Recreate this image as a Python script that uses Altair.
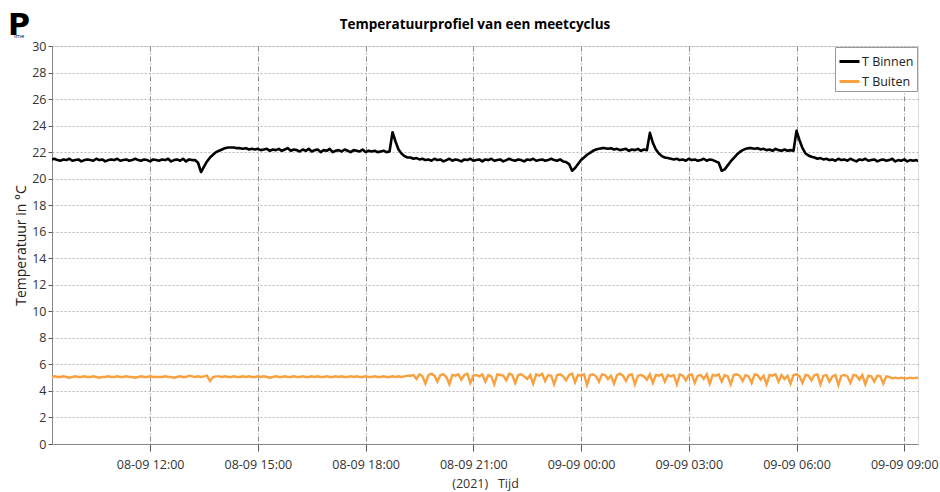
import altair as alt
import pandas as pd

# T Binnen, every 5 minutes from 08-09 09:15 (one row = one hour)
indoor = [
    21.45, 21.5, 21.4, 21.35, 21.45, 21.4, 21.5, 21.35, 21.4, 21.45, 21.3, 21.4,
    21.45, 21.4, 21.35, 21.5, 21.4, 21.45, 21.3, 21.4, 21.45, 21.4, 21.5, 21.35,
    21.4, 21.45, 21.35, 21.4, 21.5, 21.4, 21.35, 21.45, 21.4, 21.3, 21.45, 21.4,
    21.35, 21.45, 21.4, 21.5, 21.3, 21.4, 21.45, 21.35, 21.5, 21.3, 21.45, 21.4,
    21.4, 21.2, 20.5, 20.9, 21.3, 21.6, 21.8, 22.0, 22.1, 22.2, 22.3, 22.35,
    22.35, 22.35, 22.3, 22.3, 22.25, 22.3, 22.2, 22.25, 22.2, 22.25, 22.15, 22.2,
    22.25, 22.1, 22.2, 22.15, 22.25, 22.1, 22.2, 22.3, 22.1, 22.2, 22.15, 22.05,
    22.2, 22.1, 22.25, 22.05, 22.15, 22.2, 22.0, 22.15, 22.1, 22.25, 22.0, 22.1,
    22.15, 22.05, 22.2, 22.1, 22.0, 22.15, 22.1, 22.05, 22.2, 22.0, 22.1, 22.05,
    22.1, 22.0, 22.05, 22.1, 22.0, 22.05, 23.5, 22.8, 22.2, 21.9, 21.7, 21.6,
    21.6, 21.5, 21.55, 21.45, 21.5, 21.4, 21.45, 21.35, 21.5, 21.4, 21.45, 21.3,
    21.4, 21.5, 21.35, 21.45, 21.4, 21.3, 21.45, 21.4, 21.5, 21.35, 21.4, 21.45,
    21.3, 21.45, 21.4, 21.5, 21.35, 21.4, 21.45, 21.3, 21.4, 21.5, 21.4, 21.35,
    21.45, 21.4, 21.3, 21.45, 21.4, 21.5, 21.35, 21.4, 21.45, 21.35, 21.4, 21.5,
    21.4, 21.35, 21.45, 21.3, 21.25, 21.1, 20.6, 20.8, 21.1, 21.4, 21.6, 21.8,
    21.95, 22.1, 22.2, 22.25, 22.3, 22.3, 22.25, 22.3, 22.2, 22.25, 22.15, 22.2,
    22.25, 22.1, 22.2, 22.15, 22.25, 22.1, 22.2, 22.15, 23.45, 22.7, 22.2, 21.9,
    21.7, 21.6, 21.55, 21.5, 21.45, 21.5, 21.4, 21.45, 21.35, 21.5, 21.4, 21.45,
    21.35, 21.4, 21.5, 21.35, 21.45, 21.4, 21.3, 21.2, 20.6, 20.7, 21.0, 21.3,
    21.55, 21.8, 22.0, 22.15, 22.25, 22.3, 22.3, 22.25, 22.3, 22.2, 22.25, 22.15,
    22.2, 22.1, 22.25, 22.15, 22.1, 22.2, 22.1, 22.15, 22.1, 23.6, 22.9, 22.3,
    21.9, 21.75, 21.65, 21.6, 21.5, 21.55, 21.45, 21.5, 21.4, 21.45, 21.35, 21.5,
    21.4, 21.45, 21.35, 21.5, 21.4, 21.3, 21.45, 21.4, 21.5, 21.35, 21.4, 21.45,
    21.3, 21.4, 21.45, 21.35, 21.4, 21.5, 21.3, 21.4, 21.35, 21.45, 21.3, 21.4,
    21.35, 21.4, 21.3,
]

# T Buiten, every 5 minutes from 08-09 09:15 (one row = one hour)
outdoor = [
    5.05, 5.1, 5.05, 5.05, 5.1, 5.05, 5.0, 5.05, 5.1, 5.05, 5.05, 5.1,
    5.05, 5.05, 5.1, 5.05, 5.0, 5.05, 5.05, 5.1, 5.05, 5.05, 5.1, 5.05,
    5.05, 5.1, 5.05, 5.05, 5.0, 5.05, 5.1, 5.05, 5.05, 5.1, 5.05, 5.05,
    5.05, 5.05, 5.1, 5.05, 5.05, 5.0, 5.05, 5.1, 5.05, 5.05, 5.15, 5.1,
    5.05, 5.1, 5.05, 5.1, 5.15, 4.75, 5.05, 5.1, 5.1, 5.05, 5.1, 5.05,
    5.05, 5.1, 5.05, 5.05, 5.1, 5.05, 5.1, 5.05, 5.05, 5.1, 5.05, 5.1,
    5.05, 5.0, 5.05, 5.1, 5.05, 5.05, 5.1, 5.05, 5.05, 5.1, 5.05, 5.05,
    5.1, 5.05, 5.05, 5.1, 5.05, 5.1, 5.05, 5.05, 5.1, 5.05, 5.05, 5.1,
    5.05, 5.1, 5.05, 5.05, 5.1, 5.05, 5.1, 5.05, 5.05, 5.1, 5.05, 5.05,
    5.1, 5.05, 5.05, 5.1, 5.05, 5.05, 5.1, 5.05, 5.1, 5.05, 5.1, 5.15,
    5.15, 5.2, 4.9, 5.25, 5.1, 4.55, 5.2, 5.3, 5.15, 4.7, 5.2, 5.25,
    5.05, 4.5, 5.2, 5.15, 5.25, 4.85, 5.2, 5.3, 4.6, 5.15, 5.2, 5.1,
    5.25, 4.7, 5.2, 5.1, 4.5, 5.25, 5.2, 5.15, 4.8, 5.3, 5.2, 4.6,
    5.2, 5.25, 5.1, 4.9, 5.2, 4.55, 5.25, 5.15, 5.3, 4.75, 5.2, 5.15,
    4.5, 5.2, 5.25, 5.1, 4.8, 5.2, 5.3, 4.65, 5.2, 5.15, 5.25, 4.45,
    5.2, 5.25, 5.1, 4.7, 5.25, 5.2, 4.9, 5.15, 4.55, 5.2, 5.3, 5.15,
    4.75, 5.2, 5.25, 4.5, 5.15, 5.2, 5.1, 4.85, 5.25, 4.6, 5.2, 5.15,
    5.25, 4.7, 5.2, 5.1, 5.2, 4.5, 5.25, 5.15, 4.8, 5.2, 5.25, 4.6,
    5.15, 5.2, 4.9, 5.25, 4.55, 5.2, 5.15, 5.25, 4.7, 5.2, 5.1, 4.5,
    5.2, 5.25, 5.15, 4.75, 5.2, 5.1, 4.6, 5.25, 5.2, 4.85, 5.15, 4.5,
    5.2, 5.15, 5.25, 4.7, 5.2, 4.9, 5.15, 4.55, 5.2, 5.25, 5.1, 4.6,
    5.2, 5.15, 4.8, 5.2, 5.25, 4.5, 5.15, 5.2, 4.7, 5.1, 5.2, 4.45,
    5.15, 5.2, 5.1, 4.6, 5.2, 5.15, 4.85, 5.2, 4.5, 5.15, 5.1, 4.7,
    5.15, 5.1, 4.55, 5.1, 5.05, 4.95, 5.0, 4.95, 5.0, 4.95, 4.95, 5.0,
    4.95, 5.0, 4.95,
]

series_names = ["T Binnen", "T Buiten"]
series_colors = ["#000000", "#F9A03F"]
y_ticks = list(range(0, 31, 2))
tick_hours = [(8, 12), (8, 15), (8, 18), (8, 21), (9, 0), (9, 3), (9, 6), (9, 9)]
title_text = "Temperatuurprofiel van een meetcyclus"
x_title = "(2021)\u00a0\u00a0\u00a0Tijd"
y_title = "Temperatuur in °C"

start = pd.Timestamp("2021-09-08 09:15")


def frame(values, name):
    d = pd.DataFrame({
        "t": [start + pd.Timedelta(minutes=5 * i) for i in range(len(values))],
        "v": values, "s": name,
    })
    d["t"] = d["t"].dt.strftime("%Y-%m-%dT%H:%M:%S")
    return d


df_in = frame(indoor, series_names[0])
df_out = frame(outdoor, series_names[1])

FONT = "Open Sans"

x_vals = [alt.DateTime(year=2021, month=9, date=d, hours=h, minutes=0) for d, h in tick_hours]

x_enc = alt.X("t:T",
              scale=alt.Scale(domain=[alt.DateTime(year=2021, month=9, date=8, hours=9, minutes=16),
                                      alt.DateTime(year=2021, month=9, date=9, hours=9, minutes=23)]),
              axis=alt.Axis(values=x_vals, format="%d-%m %H:%M", title=x_title,
                            grid=True, gridDash=[5, 2, 1, 2], gridColor="#8a8a8a", gridWidth=1,
                            tickSize=7, tickColor="#555", domainColor="#888",
                            labelFontSize=12.5, labelColor="#333", labelPadding=7,
                            titleFontSize=12.5, titleFontWeight="normal", titleColor="#333",
                            titlePadding=7, labelFont=FONT, titleFont=FONT))
y_enc = alt.Y("v:Q", scale=alt.Scale(domain=[0, 30], nice=False, zero=False),
              axis=alt.Axis(values=y_ticks, title=y_title,
                            grid=True, gridDash=[2, 2], gridColor="#b8b8b8", gridWidth=1,
                            tickSize=4, tickColor="#555", domainColor="#888",
                            labelFontSize=12.5, labelColor="#333", labelPadding=2,
                            titleFontSize=14, titleFontWeight="normal", titleColor="#222",
                            titlePadding=3, labelFont=FONT, titleFont=FONT))
c_enc = alt.Color("s:N", scale=alt.Scale(domain=series_names, range=series_colors),
                  legend=alt.Legend(title=None, orient="top-right", offset=1,
                                    symbolType="stroke", symbolStrokeWidth=3, symbolSize=400,
                                    labelFontSize=12.5, labelColor="#222", labelFont=FONT,
                                    strokeColor="#999", fillColor="white", padding=3,
                                    rowPadding=2, labelOffset=1))

line_out = alt.Chart(df_out).mark_line(strokeWidth=2.4, clip=True,
                                       strokeJoin="miter").encode(x=x_enc, y=y_enc, color=c_enc)
line_in = alt.Chart(df_in).mark_line(strokeWidth=2.6, clip=True,
                                     strokeJoin="round").encode(x=x_enc, y=y_enc, color=c_enc)

title = alt.Chart(pd.DataFrame({"txt": [title_text]})).mark_text(
    fontSize=13.5, fontWeight="bold", font=FONT, color="#000", align="center", baseline="middle"
).encode(x=alt.value(423), y=alt.value(-21), text="txt:N")

logo = alt.Chart(pd.DataFrame({"txt": ["P"]})).mark_text(
    fontSize=30, fontWeight="bold", font="DejaVu Sans", color="#000", align="left", baseline="top"
).encode(x=alt.value(-44), y=alt.value(-35), text="txt:N")

logo_small = alt.Chart(pd.DataFrame({"txt": ["ime"]})).mark_text(
    fontSize=6, font=FONT, color="#000", align="left", baseline="top"
).encode(x=alt.value(-38), y=alt.value(-13), text="txt:N")

chart = alt.layer(line_out, line_in, title, logo, logo_small).properties(
    width=866, height=398,
    autosize=alt.AutoSizeParams(type="none"),
    padding={"left": 52, "top": 46, "right": 22, "bottom": 48},
).configure_view(stroke="#999", strokeWidth=1).configure(background="white")

chart.save("out.html", embed_options={"renderer": "svg", "actions": False})
